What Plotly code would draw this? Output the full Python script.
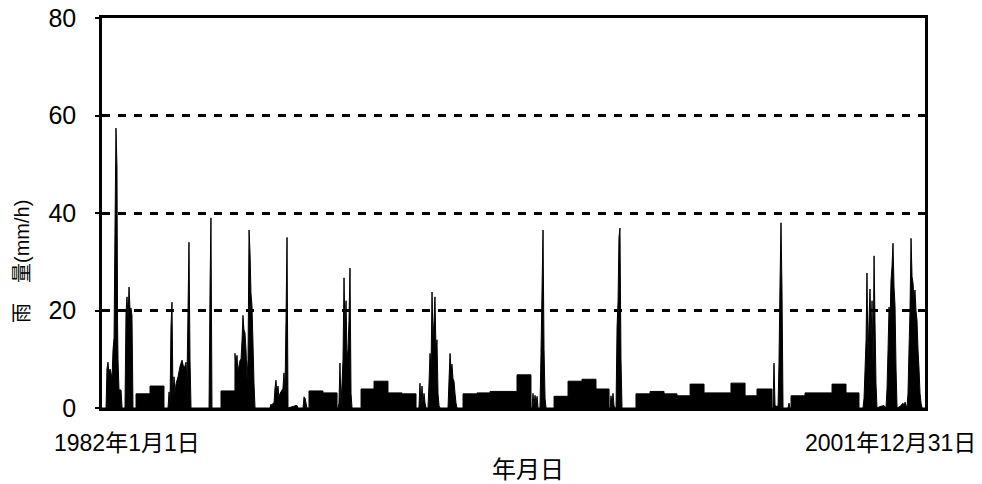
import pandas as pd
import plotly.graph_objects as go

# Day offsets from 1982-01-01 and rainfall intensity (mm/h)
day = [0, 36, 44, 53, 62, 71, 80, 89, 98, 107, 115, 124, 133, 138, 142, 151, 169, 178,
       204, 213, 222, 231, 240, 249, 257, 266, 275,
       302, 302, 426, 426, 550, 550,
       586, 595, 604, 612, 621, 630, 639, 648, 657, 675, 692, 710, 728, 746, 754, 763, 772, 781, 790,
       950, 959, 967, 976,
       1056, 1056, 1180, 1180, 1189, 1198, 1207, 1225, 1234, 1243, 1251, 1260, 1269, 1278, 1287,
       1296, 1305, 1314, 1322, 1331, 1340, 1349, 1358,
       1491, 1500, 1509, 1518, 1527, 1535, 1544, 1553, 1562, 1571, 1580, 1606, 1615, 1624, 1633, 1642, 1651,
       1722, 1731, 1740,
       1784, 1793, 1802, 1811, 1819,
       1837, 1837, 1961, 1961, 2086, 2086,
       2095, 2103, 2112, 2121, 2130, 2139, 2148, 2157, 2166, 2174, 2183, 2192, 2201, 2210, 2219,
       2299, 2299, 2414, 2414, 2538, 2538, 2663, 2663, 2787, 2787,
       2813, 2822, 2831, 2840, 2849, 2858, 2867, 2876,
       2893, 2902, 2911, 2920, 2929, 2938, 2947, 2955, 2964, 2973, 2982, 2991, 3000,
       3071, 3080, 3089, 3097, 3106, 3115, 3124, 3133, 3142, 3151,
       3204, 3204, 3328, 3328, 3444, 3444, 3683, 3683, 3807, 3807,
       3816, 3825, 3834, 3843, 3852, 3861, 3870,
       3887, 3896, 3905, 3914, 3923, 3932, 3941,
       4012, 4012, 4136, 4136, 4260, 4260, 4384, 4384, 4500, 4500,
       4509, 4517, 4526, 4535, 4544, 4553,
       4562, 4571, 4580, 4588, 4597, 4606, 4615,
       4739, 4739, 4864, 4864, 4988, 4988, 5103, 5103, 5219, 5219, 5343, 5343, 5582, 5582,
       5707, 5707, 5813, 5813, 5946, 5946,
       5955, 5964, 5973, 5991, 6000, 6008, 6017, 6026, 6035, 6044,
       6088, 6097, 6106,
       6115, 6115, 6239, 6239, 6479, 6479, 6603, 6603, 6718, 6718,
       6754, 6763, 6772, 6781, 6789, 6798, 6807, 6816, 6825, 6834, 6843, 6852, 6860, 6869, 6878,
       6905, 6940, 6958,
       6967, 6976, 6985, 6994, 7002, 7011, 7020, 7029, 7038, 7047, 7056,
       7082, 7109, 7118, 7127, 7136, 7144,
       7153, 7162, 7171, 7180, 7189, 7198, 7207, 7215, 7224, 7233, 7242, 7251, 7260, 7269, 7278, 7304]

rain = [0, 0, 8, 9.4, 7, 8, 7.2, 6, 12, 14.4, 36, 57.4, 49.4, 17.6, 10, 3.7, 3.7, 0,
        0, 19.5, 22.8, 18, 24.8, 20, 20.5, 19, 0,
        0, 2.9, 2.9, 4.5, 4.5, 0,
        0, 3.3, 1, 16.4, 21.7, 2, 6.4, 3, 5, 6.4, 8.5, 9.8, 8, 9.4, 5, 19.5, 34, 10, 0,
        0, 25.2, 39, 0,
        0, 3.5, 3.5, 11.2, 9, 10.8, 7.5, 9.8, 10, 14, 19, 16, 15.4, 12, 6,
        10, 36.5, 31.7, 23.6, 21, 13.3, 5, 0,
        0, 0.8, 0.5, 1, 1, 4, 5.7, 3, 4.5, 2, 3, 4, 7.2, 3, 18, 35, 0,
        0.5, 0.5, 0,
        0, 2.3, 2.0, 1, 0,
        0, 3.5, 3.5, 3.1, 3.1, 0,
        0, 1, 9.2, 0.5, 5, 10, 26.7, 15, 22, 10, 12, 18, 28.7, 3, 0,
        0, 3.9, 3.9, 5.5, 5.5, 3.1, 3.1, 2.9, 2.9, 0,
        0, 5.1, 0.5, 4.5, 1, 3, 1, 0,
        0, 5, 11.2, 8, 23.8, 14, 18, 22.8, 12, 14, 3, 0.5, 0,
        0, 6, 11.2, 8, 9, 6, 5.5, 3, 1, 0,
        0, 2.9, 2.9, 3.1, 3.1, 3.4, 3.4, 6.8, 6.8, 0,
        0, 3, 0.5, 2.6, 1, 2.4, 0,
        0, 11.2, 24, 36.5, 12, 2, 0,
        0, 2.4, 2.4, 5.5, 5.5, 5.9, 5.9, 3.9, 3.9, 0,
        0, 2.5, 0.5, 3, 0.5, 0,
        0, 16.6, 22, 35, 36.9, 10, 0,
        0, 2.9, 2.9, 3.4, 3.4, 2.9, 2.9, 2.5, 2.5, 4.9, 4.9, 3.1, 3.1, 5.1,
        5.1, 2.5, 2.5, 3.9, 3.9, 0,
        0, 9.2, 0.5, 0.3, 0.5, 9, 25, 38, 24, 0,
        0, 1, 0,
        0, 2.5, 2.5, 3.1, 3.1, 4.9, 4.9, 3.1, 3.1, 0,
        0, 2, 8, 14, 27.7, 10, 18, 24.4, 14, 22, 8, 31.2, 18, 5, 0,
        0.3, 0.5, 0,
        4, 12, 20.7, 18, 26, 29, 33.8, 25, 21, 8, 0,
        0.3, 1, 0.3, 1.2, 0.5, 0,
        3, 12, 20, 34.8, 27, 25.6, 22, 24.2, 20, 18, 12, 8, 3, 1, 0, 0]

y_ticks = [0, 20, 40, 60, 80]
start_label = "1982年1月1日"
end_label = "2001年12月31日"
x_title = "年月日"
y_title = "雨　量(mm/h)"

start = pd.Timestamp("1982-01-01")
end = pd.Timestamp("2001-12-31")
dates = start + pd.to_timedelta(day, unit="D")

num_font = "Liberation Sans Narrow, Liberation Sans, Noto Sans CJK JP"

fig = go.Figure()
fig.add_trace(go.Scatter(
    x=dates, y=rain, mode="lines", fill="tozeroy",
    line=dict(color="black", width=1, simplify=False), fillcolor="black",
    showlegend=False, hoverinfo="skip",
))

fig.update_layout(
    width=982, height=484,
    margin=dict(l=102, r=57, t=18, b=76),
    paper_bgcolor="white", plot_bgcolor="white",
    font=dict(family=num_font, color="black", size=24),
    xaxis=dict(
        type="date", range=[start, end], showticklabels=False, ticks="",
        showgrid=False, zeroline=False, automargin=False,
        showline=True, linecolor="black", linewidth=2.5, mirror=True,
    ),
    yaxis=dict(
        range=[0, 80], tickvals=y_ticks, ticks="outside", ticklen=4, tickwidth=2,
        tickcolor="black", ticklabelstandoff=14, automargin=False,
        tickfont=dict(family=num_font, size=25),
        showgrid=True, gridcolor="black", gridwidth=3, griddash="8px,8px",
        zeroline=False,
        showline=True, linecolor="black", linewidth=2.5, mirror=True,
    ),
    annotations=[
        dict(text=start_label, xref="paper", yref="paper", x=-50 / 823, y=-20 / 390,
             xanchor="left", yanchor="top", showarrow=False,
             font=dict(family=num_font, size=23)),
        dict(text=end_label, xref="paper", yref="paper", x=1 + 53 / 823, y=-20 / 390,
             xanchor="right", yanchor="top", showarrow=False,
             font=dict(family=num_font, size=23)),
        dict(text=x_title, xref="paper", yref="paper", x=(528 - 102) / 823, y=-46 / 390,
             xanchor="center", yanchor="top", showarrow=False,
             font=dict(family=num_font, size=24)),
        dict(text=y_title, xref="paper", yref="paper", x=-80 / 823, y=(408 - 262) / 390,
             xanchor="center", yanchor="middle", showarrow=False, textangle=-90,
             font=dict(family=num_font, size=20)),
    ],
)

fig.write_html("out.html", config={"displayModeBar": False},
               post_script="document.body.style.margin='0px';")
